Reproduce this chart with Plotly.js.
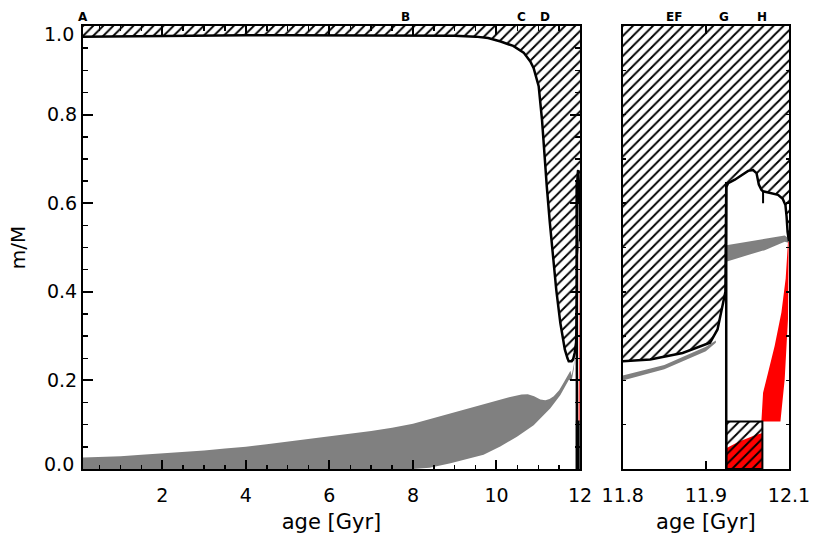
<!DOCTYPE html>
<html>
<head>
<meta charset="utf-8">
<script src="https://cdn.plot.ly/plotly-3.0.1.min.js"></script>
<style>
  html, body { margin: 0; padding: 0; background: #fff; }
  #plot { width: 830px; height: 553px; }
</style>
</head>
<body>
<div id="plot"></div>
<script>
// lower edge of the convective envelope (m/M) before the flash at G
var envAge  = [0.1, 1, 2, 3, 4, 5, 6, 7, 8, 9, 9.5, 9.8, 10.1, 10.4, 10.65, 10.81, 10.89, 11.01, 11.09, 11.14, 11.205, 11.277, 11.348, 11.432, 11.528, 11.636, 11.7, 11.73, 11.8, 11.833, 11.872, 11.905, 11.914, 11.92, 11.9235];
var envBase = [0.976, 0.977, 0.978, 0.978, 0.979, 0.979, 0.979, 0.979, 0.979, 0.978, 0.976, 0.973, 0.965, 0.955, 0.940, 0.920, 0.905, 0.864, 0.788, 0.714, 0.637, 0.556, 0.479, 0.404, 0.330, 0.270, 0.250, 0.243, 0.243, 0.247, 0.262, 0.285, 0.315, 0.367, 0.400];

// envelope edge after G
var env2Age  = [11.9245, 11.9268, 11.9348, 11.9429, 11.9508, 11.9568, 11.9609, 11.9637, 11.9669, 11.9688, 11.9768, 11.9868, 11.9924, 11.9957, 11.9971, 11.9983, 12.0];
var env2Base = [0.636, 0.645, 0.653, 0.664, 0.673, 0.675, 0.668, 0.642, 0.630, 0.627, 0.624, 0.619, 0.610, 0.596, 0.570, 0.535, 0.514];

// H notch
var notchAge = 11.9688;
var notchM = [0.627, 0.600];

// the G line
var gAge = 11.9245;
var gTop = 0.648;

// grey region (H burning)
var grayTopAge = [0.1, 0.5, 1, 1.5, 2, 2.5, 3, 3.5, 4, 4.5, 5, 5.5, 6, 6.5, 7, 7.5, 8, 8.5, 9, 9.5, 10, 10.3, 10.6, 10.75, 10.9, 11.05, 11.17, 11.27, 11.37, 11.5, 11.61, 11.7, 11.77, 11.8, 11.85, 11.9, 11.912];
var grayTop    = [0.026, 0.027, 0.029, 0.032, 0.035, 0.038, 0.042, 0.046, 0.050, 0.056, 0.062, 0.067, 0.073, 0.079, 0.086, 0.093, 0.102, 0.115, 0.128, 0.142, 0.155, 0.162, 0.168, 0.169, 0.164, 0.157, 0.155, 0.158, 0.164, 0.178, 0.195, 0.210, 0.222, 0.211, 0.235, 0.276, 0.290];
var grayBotAge = [0.1, 8.0, 8.4, 8.9, 9.69, 10.09, 10.49, 10.89, 11.29, 11.53, 11.73, 11.8, 11.85, 11.9, 11.912];
var grayBot    = [0, 0, 0.003, 0.013, 0.032, 0.051, 0.073, 0.099, 0.137, 0.167, 0.201, 0.200, 0.225, 0.266, 0.285];

// grey band after G
var gray2Age = [11.9245, 11.9508, 11.9708, 11.9948, 11.9996];
var gray2Top = [0.505, 0.513, 0.520, 0.527, 0.521];
var gray2Bot = [0.468, 0.483, 0.494, 0.513, 0.511];

// red shell (outline, top -> down left side -> up right side)
var redAge = [11.9988, 11.996, 11.9909, 11.9828, 11.9748, 11.9688, 11.9669, 11.9665, 11.9897, 11.9948, 11.9988, 11.9996];
var redM   = [0.513, 0.430, 0.354, 0.278, 0.2175, 0.172, 0.111, 0.1075, 0.1075, 0.202, 0.339, 0.513];

// convective core between G and H
var coreAge = [11.9245, 11.968];
var coreTop = 0.1075;
var coreRedAge = [11.9245, 11.940, 11.960, 11.968];
var coreRedTop = [0.047, 0.062, 0.077, 0.081];

// stage letters
var stageNames = ['A', 'B', 'C', 'D', 'EF', 'G', 'H'];
var stageAges  = [0.1, 7.82, 10.61, 11.15, 11.862, 11.922, 11.968];
var stagePanel = ['x', 'x', 'x', 'x', 'x2', 'x2', 'x2'];

var leftRange = [0.1, 12.0];
var rightRange = [11.8, 12.0];
var mRange = [0, 1];
var mTickVals = [0, 0.2, 0.4, 0.6, 0.8, 1.0];
var mTickText = ['0.0', '0.2', '0.4', '0.6', '0.8', '1.0'];
var rightTickVals = [11.8, 11.9, 12.0];
var rightTickText = ['11.8', '11.9', '12.1'];

var hatch = {shape: '/', size: 7.1, solidity: 0.27, fgcolor: 'black', bgcolor: 'white'};
var hatchClear = {shape: '/', size: 7.1, solidity: 0.27, fgcolor: 'black', bgcolor: 'rgba(0,0,0,0)'};

function panel(xa, ya) {
  var t = [];
  // grey main region
  t.push({x: grayTopAge.concat(grayBotAge.slice().reverse()),
          y: grayTop.concat(grayBot.slice().reverse()),
          xaxis: xa, yaxis: ya, mode: 'lines', fill: 'toself',
          fillcolor: '#808080', line: {width: 0}, hoverinfo: 'skip'});
  t.push({x: gray2Age.concat(gray2Age.slice().reverse()),
          y: gray2Top.concat(gray2Bot.slice().reverse()),
          xaxis: xa, yaxis: ya, mode: 'lines', fill: 'toself',
          fillcolor: '#808080', line: {width: 0}, hoverinfo: 'skip'});
  // red shell
  t.push({x: redAge, y: redM, xaxis: xa, yaxis: ya, mode: 'lines', fill: 'toself',
          fillcolor: '#ff0000', line: {width: 0}, hoverinfo: 'skip'});
  // red in core
  t.push({x: coreRedAge, y: coreRedTop, xaxis: xa, yaxis: ya, mode: 'lines', fill: 'tozeroy',
          fillcolor: '#ff0000', line: {width: 0}, hoverinfo: 'skip'});
  // hatched core box
  t.push({x: [coreAge[0], coreAge[0], coreAge[1], coreAge[1], coreAge[0]],
          y: [mRange[0], coreTop, coreTop, mRange[0], mRange[0]],
          xaxis: xa, yaxis: ya, mode: 'lines', fill: 'toself', fillcolor: 'rgba(0,0,0,0)',
          fillpattern: hatchClear, line: {color: 'black', width: 2}, hoverinfo: 'skip'});
  // hatched envelope
  var ex = envAge.concat(env2Age);
  var ey = envBase.concat(env2Base);
  t.push({x: ex.concat([leftRange[1], leftRange[0]]),
          y: ey.concat([mRange[1] + 0.01, mRange[1] + 0.01]),
          xaxis: xa, yaxis: ya, mode: 'lines', fill: 'toself', fillcolor: 'white',
          fillpattern: hatch, line: {width: 0}, hoverinfo: 'skip'});
  t.push({x: ex, y: ey, xaxis: xa, yaxis: ya, mode: 'lines',
          line: {color: 'black', width: 2.5}, hoverinfo: 'skip'});
  // G line and H notch
  t.push({x: [gAge, gAge], y: [mRange[0], gTop], xaxis: xa, yaxis: ya, mode: 'lines',
          line: {color: 'black', width: 2.5}, hoverinfo: 'skip'});
  t.push({x: [notchAge, notchAge], y: notchM, xaxis: xa, yaxis: ya, mode: 'lines',
          line: {color: 'black', width: 2}, hoverinfo: 'skip'});
  return t;
}

var data = panel('x', 'y').concat(panel('x2', 'y2'));

var annotations = stageNames.map(function (s, i) {
  return {text: s, x: stageAges[i], xref: stagePanel[i], y: 1, yref: 'paper',
          yanchor: 'bottom', xanchor: 'center', yshift: 0, showarrow: false,
          font: {family: 'DejaVu Sans', size: 12, color: 'black', weight: 'bold'}};
});
// end labels of the m/M axis sit a little inside the frame
annotations.push({text: mTickText[0], x: 0, xref: 'paper', xanchor: 'right', xshift: -7,
                  y: mTickVals[0], yref: 'y', yanchor: 'middle', yshift: 5, showarrow: false,
                  font: {family: 'DejaVu Sans', size: 19, color: 'black'}});
annotations.push({text: mTickText[5], x: 0, xref: 'paper', xanchor: 'right', xshift: -7,
                  y: mTickVals[5], yref: 'y', yanchor: 'middle', yshift: -8, showarrow: false,
                  font: {family: 'DejaVu Sans', size: 19, color: 'black'}});

var axisCommon = {showline: true, linewidth: 2, linecolor: 'black', mirror: 'ticks',
                  showgrid: false, zeroline: false, ticks: 'inside', tickcolor: 'black'};

var layout = {
  width: 830, height: 553,
  margin: {l: 83, r: 41, t: 26, b: 84},
  paper_bgcolor: 'white', plot_bgcolor: 'white',
  showlegend: false,
  font: {family: 'DejaVu Sans', size: 19, color: 'black'},
  annotations: annotations,
  xaxis: Object.assign({}, axisCommon, {
    domain: [0, 0.704], range: leftRange, anchor: 'y',
    tickmode: 'linear', tick0: 0, dtick: 2, ticklen: 9, tickwidth: 2, ticklabelstandoff: 8,
    minor: {dtick: 0.5, tick0: 0, ticks: 'inside', ticklen: 4.5, tickwidth: 1.5, tickcolor: 'black'},
    title: {text: 'age [Gyr]', font: {size: 21}, standoff: 10}
  }),
  yaxis: Object.assign({}, axisCommon, {
    domain: [0, 1], range: mRange, anchor: 'x',
    tickmode: 'array', tickvals: mTickVals, ticktext: ['', '0.2', '0.4', '0.6', '0.8', ''],
    ticklen: 10, tickwidth: 2,
    minor: {dtick: 0.05, tick0: 0, ticks: 'inside', ticklen: 5, tickwidth: 1.5, tickcolor: 'black'},
    title: {text: 'm/M', font: {size: 20}, standoff: 16}
  }),
  xaxis2: Object.assign({}, axisCommon, {
    domain: [0.7645, 1], range: rightRange, anchor: 'y2',
    tickmode: 'array', tickvals: rightTickVals, ticktext: rightTickText, ticklen: 8, tickwidth: 2,
    ticklabelstandoff: 8,
    title: {text: 'age [Gyr]', font: {size: 21}, standoff: 10}
  }),
  yaxis2: Object.assign({}, axisCommon, {
    domain: [0, 1], range: mRange, anchor: 'x2', showticklabels: false,
    tickmode: 'linear', tick0: 0, dtick: 0.1, ticklen: 3, tickwidth: 1.5
  })
};

Plotly.newPlot('plot', data, layout, {staticPlot: true, displayModeBar: false});
</script>
</body>
</html>
